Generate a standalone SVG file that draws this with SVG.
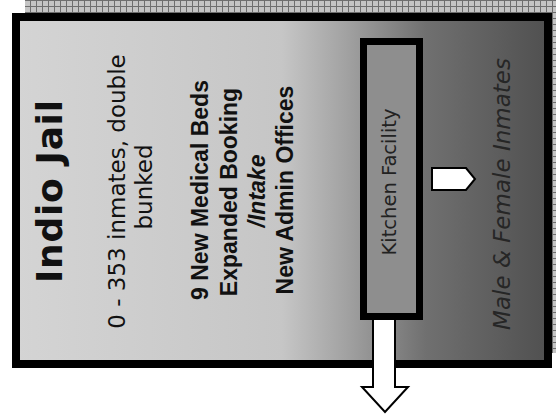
<svg xmlns="http://www.w3.org/2000/svg" width="556" height="415" viewBox="0 0 556 415">
  <defs>
    <linearGradient id="bg" x1="16" y1="0" x2="548" y2="0" gradientUnits="userSpaceOnUse">
      <stop offset="0" stop-color="#d4d4d4"/>
      <stop offset="0.5" stop-color="#c6c6c6"/>
      <stop offset="0.62" stop-color="#a2a2a2"/>
      <stop offset="0.77" stop-color="#707070"/>
      <stop offset="1" stop-color="#505050"/>
    </linearGradient>
    <pattern id="grid" width="6" height="6" patternUnits="userSpaceOnUse">
      <rect width="6" height="6" fill="#c4c4c4"/>
      <path d="M0 0.5H6M0.5 0V6" stroke="#6e6e6e" stroke-width="1"/>
    </pattern>
    <style>
      .t { font-family: "DejaVu Sans", Verdana, sans-serif; fill: #111; }
      .a { font-family: "Liberation Sans", Arial, sans-serif; font-weight: bold; fill: #111; }
      .arrow { fill: #ffffff; stroke: #000; stroke-width: 2; stroke-linejoin: miter; }
    </style>
  </defs>

  <rect x="0" y="0" width="556" height="415" fill="#ffffff"/>
  <!-- halftone strips -->
  <rect x="25" y="0" width="531" height="13" fill="url(#grid)"/>
  <rect x="552" y="13" width="4" height="340" fill="url(#grid)"/>

  <g id="indio-jail">
    <rect x="16" y="17" width="532" height="347" fill="url(#bg)" stroke="#000" stroke-width="8"/>
    <text class="t" font-weight="bold" font-size="36" text-anchor="middle" textLength="183" transform="translate(62,191.5) rotate(-90)">Indio Jail</text>
    <text class="t" font-size="23" text-anchor="middle" transform="translate(125,191.5) rotate(-90)">0 - 353 inmates, double</text>
    <text class="t" font-size="23" text-anchor="middle" transform="translate(152,187) rotate(-90)">bunked</text>
    <text class="a" font-size="23" text-anchor="middle" transform="translate(208,190) rotate(-90)">9 New Medical Beds</text>
    <text class="a" font-size="23" text-anchor="middle" transform="translate(237,192) rotate(-90)">Expanded Booking</text>
    <text class="a" font-size="23" font-style="italic" text-anchor="middle" transform="translate(265,191) rotate(-90)">/Intake</text>
    <text class="a" font-size="23" text-anchor="middle" transform="translate(293,190) rotate(-90)">New Admin Offices</text>
  </g>

  <g id="kitchen-facility">
    <rect x="363.5" y="41.5" width="56" height="275" fill="#8e8e8e" stroke="#000" stroke-width="7"/>
    <text class="t" font-size="19.5" text-anchor="middle" style="fill:#222222" transform="translate(396,182) rotate(-90)">Kitchen Facility</text>
  </g>

  <g id="male-female-inmates">
    <text class="t" font-size="23" font-style="italic" text-anchor="middle" style="fill:#262626" transform="translate(510,194) rotate(-90)">Male &amp; Female Inmates</text>
  </g>

  <g id="connectors">
    <path class="arrow" d="M432,168 L466,168 L475,179 L466,190 L432,190 Z"/>
    <path class="arrow" d="M373,320 L373,387 L362,387 L385,412 L408,387 L395,387 L395,320"/>
  </g>
</svg>
